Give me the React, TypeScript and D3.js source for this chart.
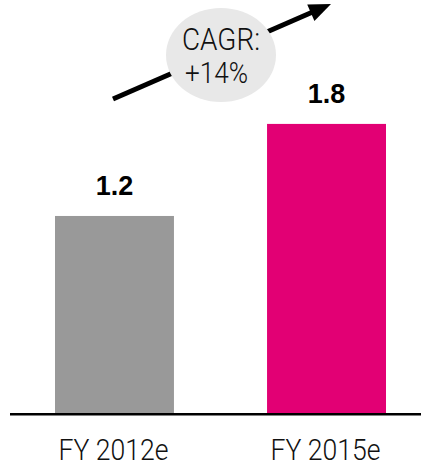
import React from "react";
import * as d3 from "d3";

const categories = ["FY 2012e", "FY 2015e"];
const values = [1.22, 1.79];
const barColors = ["#999999", "#E20074"];
const cagrLines = ["CAGR:", "+14%"];

const W = 421;
const H = 467;

export default function App() {
  const x = d3.scaleBand<string>().domain(categories).range([55, 386]).paddingInner(0.439).paddingOuter(0);
  const y = d3.scaleLinear().domain([0, 2]).range([413, 90]);
  const fmt = d3.format(".1f");

  // arrow geometry (annotation)
  const ax0 = 113, ay0 = 99, ax1 = 331, ay1 = 4;
  const dx = ax1 - ax0, dy = ay1 - ay0;
  const len = Math.hypot(dx, dy);
  const ux = dx / len, uy = dy / len;
  const px = -uy, py = ux;
  const headLen = 22, headW = 9;
  const bx = ax1 - ux * headLen, by = ay1 - uy * headLen;
  const head = `M${ax1},${ay1} L${bx + px * headW},${by + py * headW} L${bx - px * headW},${by - py * headW} Z`;

  const light = "Roboto, 'Liberation Sans', Arial, sans-serif";

  return (
    <svg width={W} height={H} style={{ position: "absolute", left: 0, top: 0, background: "#fff" }}
      fontFamily="'Liberation Sans', Arial, sans-serif">
      {/* arrow */}
      <line x1={ax0} y1={ay0} x2={bx + ux * 2} y2={by + uy * 2} stroke="#000" strokeWidth={5} />
      <path d={head} fill="#000" />
      {/* CAGR bubble */}
      <ellipse cx={221} cy={55} rx={55} ry={47} fill="#E8E8E8" />
      <text x={182} y={50} fontSize={32} fontFamily={light} fontWeight={300} fill="#111" textLength={78} lengthAdjust="spacingAndGlyphs">{cagrLines[0]}</text>
      <text x={185} y={83} fontSize={29} fontFamily={light} fontWeight={300} fill="#111" textLength={63} lengthAdjust="spacingAndGlyphs">{cagrLines[1]}</text>

      {/* bars */}
      {categories.map((c, i) => (
        <g key={c}>
          <rect x={x(c)} y={y(values[i])} width={x.bandwidth()} height={y(0) - y(values[i])} fill={barColors[i]} />
          <text x={(x(c) as number) + x.bandwidth() / 2} y={y(values[i]) - 21} textAnchor="middle"
            fontSize={27} fontWeight="bold" fill="#000">{fmt(values[i])}</text>
          <text x={(x(c) as number) + x.bandwidth() / 2 - 1} y={460} textAnchor="middle"
            fontSize={29} fontFamily={light} fontWeight={300} fill="#111" textLength={110} lengthAdjust="spacingAndGlyphs">{c}</text>
        </g>
      ))}
      {/* baseline */}
      <line x1={10} x2={421} y1={y(0) + 1.2} y2={y(0) + 1.2} stroke="#000" strokeWidth={2.6} />
    </svg>
  );
}
